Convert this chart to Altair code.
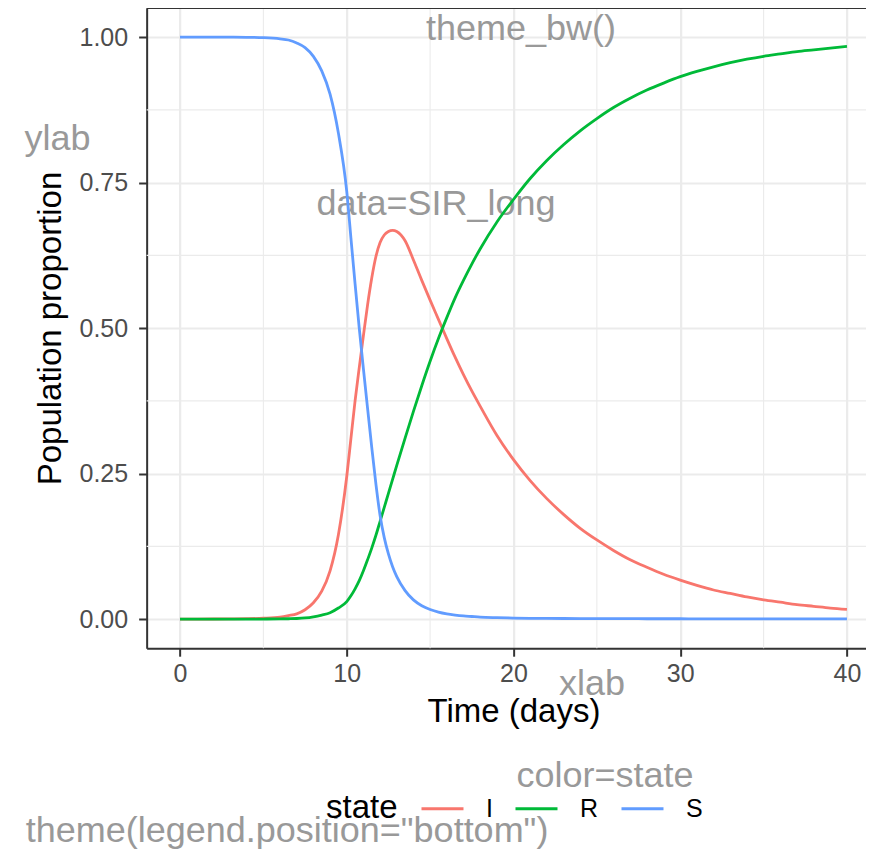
import altair as alt
import pandas as pd

# ---- data ----
time = [0, 1, 2, 3, 4, 5, 6, 6.5, 7, 7.5, 8, 8.5, 9, 9.5, 10,
        10.25, 10.5, 10.75, 11, 11.25, 11.5, 11.75, 12, 12.25, 12.5, 12.75, 13,
        13.5, 14, 14.5, 15, 15.5, 16, 16.5, 17, 17.5, 18,
        19, 20, 21, 22, 23, 24, 25, 26, 27, 28, 29, 30, 31, 32, 33, 34, 35, 36, 37, 38, 39, 40]

S = [1.0, 1.0, 1.0, 0.9999, 0.9997, 0.999, 0.997, 0.995, 0.99, 0.982, 0.967, 0.942, 0.902, 0.835, 0.735,
     0.655, 0.576, 0.50, 0.43, 0.362, 0.295, 0.232, 0.178, 0.14, 0.112, 0.09, 0.073,
     0.049, 0.033, 0.023, 0.0165, 0.012, 0.009, 0.007, 0.0055, 0.0045, 0.0035,
     0.0025, 0.0018, 0.0014, 0.0012, 0.001, 0.0009, 0.0008, 0.0007, 0.0007, 0.0006, 0.0006, 0.0006,
     0.0005, 0.0005, 0.0005, 0.0005, 0.0005, 0.0005, 0.0005, 0.0005, 0.0005, 0.0005]

I = [0, 0.0001, 0.0002, 0.0004, 0.0007, 0.0015, 0.0035, 0.006, 0.009, 0.016, 0.028, 0.048, 0.083, 0.145, 0.245,
     0.31, 0.375, 0.432, 0.487, 0.54, 0.586, 0.623, 0.647, 0.66, 0.666, 0.668, 0.666,
     0.65, 0.617, 0.582, 0.548, 0.515, 0.482, 0.45, 0.42, 0.392, 0.366,
     0.316, 0.274, 0.238, 0.207, 0.18, 0.156, 0.136, 0.118, 0.102, 0.089, 0.077, 0.067,
     0.058, 0.05, 0.044, 0.038, 0.033, 0.029, 0.025, 0.022, 0.019, 0.0166]

R = [0, 0, 0, 0, 0, 0.0001, 0.0003, 0.0006, 0.001, 0.002, 0.004, 0.007, 0.011, 0.019, 0.03,
     0.04, 0.052, 0.066, 0.083, 0.102, 0.122, 0.144, 0.168, 0.192, 0.216, 0.24, 0.264,
     0.311, 0.357, 0.401, 0.443, 0.482, 0.518, 0.552, 0.582, 0.61, 0.636,
     0.682, 0.721, 0.757, 0.788, 0.815, 0.839, 0.86, 0.879, 0.895, 0.909, 0.921, 0.932,
     0.941, 0.949, 0.956, 0.962, 0.967, 0.971, 0.975, 0.978, 0.981, 0.984]

states = ["I", "R", "S"]
state_colors = ["#F8766D", "#00BA38", "#619CFF"]

x_major = [0, 10, 20, 30, 40]
x_minor = [5, 15, 25, 35]
y_major = [0, 0.25, 0.5, 0.75, 1.0]
y_minor = [0.125, 0.375, 0.625, 0.875]

rows = []
for st, vals in (("I", I), ("R", R), ("S", S)):
    for t, v in zip(time, vals):
        rows.append({"time": t, "value": v, "state": st})
df = pd.DataFrame(rows)

# ---- layout ----
W = 719.5
H = 640.2
FONT = "Liberation Sans"
GRID = "#EBEBEB"
DARK = "#333333"
ANN = "#999999"

xs = alt.Scale(domain=[-2, 41.15], nice=False, zero=False)
ys = alt.Scale(domain=[-0.05, 1.05], nice=False, zero=False)

x_axis = alt.Axis(values=x_major, format="d", grid=True, gridColor=GRID, gridWidth=2.2,
                  domainColor=DARK, domainWidth=2, tickColor=DARK, tickWidth=2, tickSize=8,
                  labelFontSize=25, labelColor="#4D4D4D", labelFont=FONT, labelPadding=5,
                  title="Time (days)", titleFontSize=33, titleFont=FONT, titleColor="black",
                  titleFontWeight="normal", titleBaseline="alphabetic", titleX=366.8, titleY=73)
y_axis = alt.Axis(values=y_major, format=".2f", grid=True, gridColor=GRID, gridWidth=2.2,
                  domainColor=DARK, domainWidth=2, tickColor=DARK, tickWidth=2, tickSize=8,
                  labelFontSize=25, labelColor="#4D4D4D", labelFont=FONT, labelPadding=11,
                  title="Population proportion", titleFontSize=33, titleFont=FONT,
                  titleColor="black", titleFontWeight="normal", titleAngle=270,
                  titleBaseline="alphabetic", titleX=-86, titleY=320)

X = alt.X("time:Q", scale=xs, axis=x_axis)
Y = alt.Y("value:Q", scale=ys, axis=y_axis)

minor_v = alt.Chart(pd.DataFrame({"time": x_minor})).mark_rule(
    color=GRID, strokeWidth=1.1).encode(x=X)
minor_h = alt.Chart(pd.DataFrame({"value": y_minor})).mark_rule(
    color=GRID, strokeWidth=1.1).encode(y=Y)

dummy = pd.DataFrame({"a": [0]})


def note(txt, x, y, size=36, color=ANN, align="center"):
    return alt.Chart(dummy).mark_text(
        font=FONT, fontSize=size, color=color, align=align, baseline="alphabetic"
    ).encode(x=alt.value(x), y=alt.value(y), text=alt.value(txt))


notes = [
    note("theme_bw()", 374.4, 31.5),
    note("ylab", -89.2, 142),
    note("data=SIR_long", 289.4, 207),
    note("xlab", 445.4, 687),
    note("color=state", 458.4, 779),
    note('theme(legend.position="bottom")', 140.4, 834.5),
    note("state", 179.35, 810, size=33, color="black", align="left"),
]

lines = alt.Chart(df).mark_line(strokeWidth=2.8, interpolate="monotone").encode(
    x=X,
    y=Y,
    color=alt.Color(
        "state:N",
        scale=alt.Scale(domain=states, range=state_colors),
        legend=alt.Legend(
            title=None, orient="none", legendX=273.35, legendY=778,
            direction="horizontal",
            labelFontSize=25, labelFont=FONT, labelColor="black",
            symbolType="stroke", symbolSize=1764, symbolStrokeWidth=3,
            labelOffset=21, columnPadding=16, padding=0,
        ),
    ),
)

top_border = alt.Chart(dummy).mark_rule(color=DARK, strokeWidth=2).encode(
    x=alt.value(0), x2=alt.value(W), y=alt.value(0))

chart = alt.layer(
    minor_v, minor_h, *notes, lines, top_border
).properties(
    width=W, height=H,
    autosize=alt.AutoSizeParams(type="none"),
    padding={"left": 138.65, "top": 0, "right": 0, "bottom": 202.8},
).configure_view(stroke=None).configure(font=FONT, background="white")

chart.save("out.html", embed_options={"renderer": "svg", "actions": False})
